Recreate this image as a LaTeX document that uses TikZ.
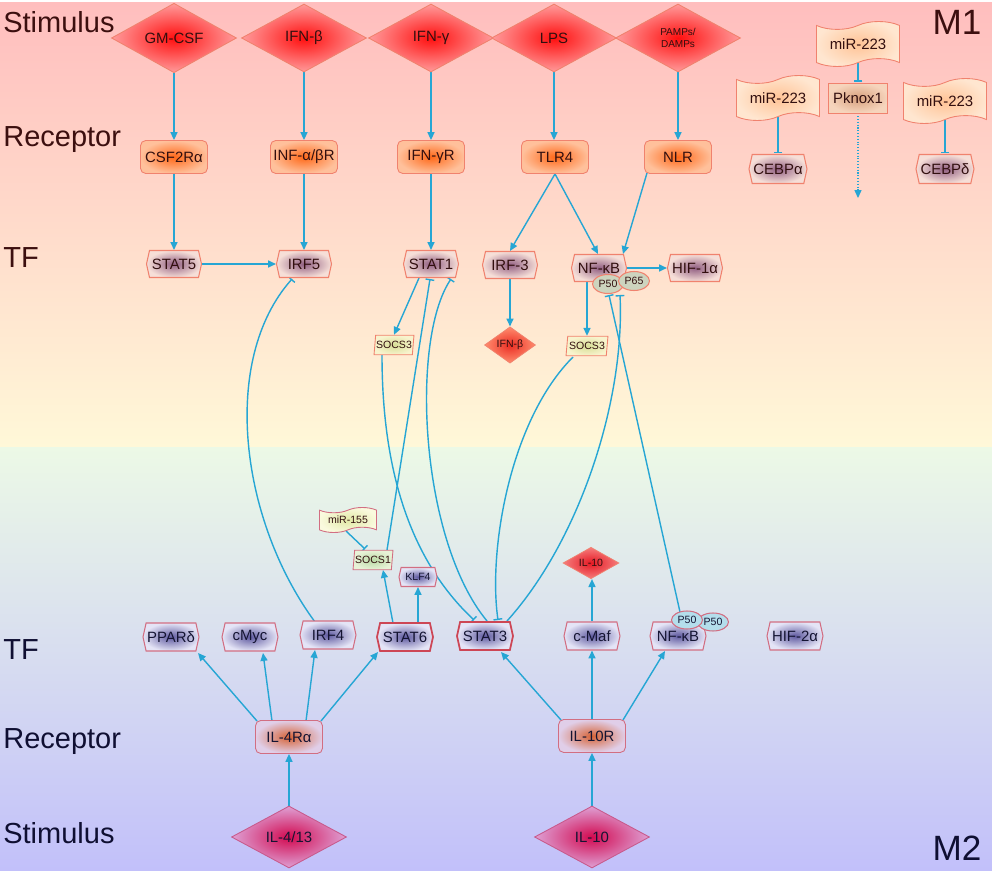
\documentclass[tikz,border=0pt]{standalone}
\usepackage{fontspec}
\setmainfont{Liberation Sans}
\usetikzlibrary{shapes.geometric,shapes.symbols,arrows.meta,calc}
\definecolor{conn}{RGB}{38,166,212}
\definecolor{brdA}{RGB}{240,130,110}
\definecolor{brdB}{RGB}{210,110,130}
\definecolor{brdS}{RGB}{205,70,85}
\definecolor{txtA}{RGB}{50,15,15}
\definecolor{txtB}{RGB}{20,20,50}
\definecolor{labA}{RGB}{60,15,15}
\definecolor{labB}{RGB}{15,15,50}
\definecolor{stimIn}{RGB}{255,15,15}
\definecolor{stimOut}{RGB}{255,155,155}
\definecolor{recIn}{RGB}{255,105,25}
\definecolor{recOut}{RGB}{255,192,155}
\definecolor{tfIn}{RGB}{145,95,130}
\definecolor{tfOut}{RGB}{246,222,215}
\definecolor{mirIn}{RGB}{255,195,150}
\definecolor{mirOut}{RGB}{255,230,208}
\definecolor{pkIn}{RGB}{215,160,125}
\definecolor{pkOut}{RGB}{246,212,188}
\definecolor{socsIn}{RGB}{215,222,150}
\definecolor{socsOut}{RGB}{248,243,205}
\definecolor{sdIn}{RGB}{235,45,35}
\definecolor{sdOut}{RGB}{255,140,110}
\definecolor{pfA}{RGB}{205,212,190}
\definecolor{mbIn}{RGB}{225,232,165}
\definecolor{mbOut}{RGB}{250,250,222}
\definecolor{soIn}{RGB}{185,218,165}
\definecolor{soOut}{RGB}{232,242,215}
\definecolor{tfbIn}{RGB}{95,90,160}
\definecolor{tfbOut}{RGB}{228,228,246}
\definecolor{isIn}{RGB}{230,25,35}
\definecolor{isOut}{RGB}{245,125,125}
\definecolor{pfB}{RGB}{180,222,236}
\definecolor{rbIn}{RGB}{215,100,55}
\definecolor{rbOut}{RGB}{224,206,232}
\definecolor{sbIn}{RGB}{210,10,80}
\definecolor{sbOut}{RGB}{222,160,212}
\definecolor{brdSB}{RGB}{200,90,140}
\definecolor{bgA}{RGB}{255,190,190}
\definecolor{bgB}{RGB}{255,222,205}
\definecolor{bgC}{RGB}{255,248,216}
\definecolor{bgD}{RGB}{236,249,230}
\definecolor{bgE}{RGB}{213,222,243}
\definecolor{bgF}{RGB}{194,192,250}
\pgfdeclarelayer{bg}
\pgfdeclarelayer{lines}
\pgfsetlayers{bg,lines,main}
\tikzset{
  fnt/.style={font=\fontsize{8.5}{10}\selectfont},
  sml/.style={font=\fontsize{6}{7}\selectfont},
  lab/.style={font=\fontsize{16.5}{18}\selectfont, anchor=west, inner sep=0},
  big/.style={font=\fontsize{20}{22}\selectfont, inner sep=0},
  stim/.style={diamond, draw=brdA, line width=0.5pt, inner sep=0, minimum width=2.5cm, minimum height=1.36cm, inner color=stimIn, outer color=stimOut, fnt, text=txtA},
  rec/.style={rectangle, rounded corners=3pt, draw=brdA, line width=0.5pt, inner sep=0, minimum width=1.34cm, minimum height=0.66cm, inner color=recIn, outer color=recOut, fnt, text=txtA},
  tf/.style={signal, signal to=west and east, signal pointer angle=155, draw=brdA, line width=0.6pt, inner sep=0, minimum width=1.1cm, minimum height=0.54cm, inner color=tfIn, outer color=tfOut, fnt, text=txtA},
  mir/.style={tape, tape bend top=in and out, tape bend bottom=in and out, tape bend height=4.5pt, draw=brdA, line width=0.5pt, inner sep=0, minimum width=1.66cm, minimum height=0.9cm, inner color=mirIn, outer color=mirOut, fnt, text=txtA},
  pkx/.style={rectangle, draw=brdA, line width=0.5pt, inner sep=0, minimum width=1.18cm, minimum height=0.6cm, inner color=pkIn, outer color=pkOut, fnt, text=txtA},
  socs/.style={trapezium, trapezium left angle=78, trapezium right angle=102, trapezium stretches=true, draw=brdA, line width=0.5pt, inner sep=0, minimum width=0.8cm, minimum height=0.39cm, inner color=socsIn, outer color=socsOut, sml, text=txtA},
  sdia/.style={diamond, draw=brdA, line width=0.4pt, inner sep=0, minimum width=1.02cm, minimum height=0.56cm, inner color=sdIn, outer color=sdOut, sml, text=txtA},
  pa/.style={ellipse, draw=brdA, line width=0.6pt, inner sep=0, minimum width=0.62cm, minimum height=0.38cm, fill=pfA, sml, text=txtA},
  tfb/.style={signal, signal to=west and east, signal pointer angle=155, draw=brdB, line width=0.6pt, inner sep=0, minimum width=1.12cm, minimum height=0.56cm, inner color=tfbIn, outer color=tfbOut, fnt, text=txtB},
  pb/.style={ellipse, draw=brdB, line width=0.6pt, inner sep=0, minimum width=0.62cm, minimum height=0.36cm, fill=pfB, sml, text=txtB},
  recb/.style={rectangle, rounded corners=3pt, draw=brdB, line width=0.5pt, inner sep=0, minimum width=1.34cm, minimum height=0.66cm, inner color=rbIn, outer color=rbOut, fnt, text=txtB},
  stimb/.style={diamond, draw=brdSB, line width=0.5pt, inner sep=0, minimum width=2.3cm, minimum height=1.24cm, inner color=sbIn, outer color=sbOut, fnt, text=txtB},
  ac/.style={draw=conn, line width=0.8pt, -{Triangle[length=4.5pt,width=4pt]}},
  ic/.style={draw=conn, line width=0.8pt, -{Bar[width=5pt]}},
}
\begin{document}
\begin{tikzpicture}[x=0.02cm,y=-0.02cm]
\useasboundingbox (0,0) rectangle (992,875);
\begin{pgfonlayer}{bg}
  \fill[white] (0,0) rectangle (992,875);
  \shade[top color=bgA, middle color=bgB, bottom color=bgC] (0,3) rectangle (992,447);
  \shade[top color=bgD, middle color=bgE, bottom color=bgF] (0,447) rectangle (992,870);
\end{pgfonlayer}

% side labels
\node[lab, text=labA] (l1) at (3,22) {Stimulus};
\node[lab, text=labA] (l2) at (3,140) {Receptor};
\node[lab, text=labA] (l3) at (3,258) {TF};
\node[lab, text=labB] (l4) at (3,650) {TF};
\node[lab, text=labB] (l5) at (3,742) {Receptor};
\node[lab, text=labB] (l6) at (3,833) {Stimulus};
\node[big, text=labA] (m1) at (957,22) {M1};
\node[big, text=labB] (m2) at (957,848) {M2};

% M1 stimuli
\node[stim] (gmcsf) at (174,38) {GM-CSF};
\node[stim] (ifnb) at (304,38) {IFN-β};
\node[stim] (ifng) at (431,38) {IFN-γ};
\node[stim] (lps) at (554,38) {LPS};
\node[stim, font=\fontsize{5.7}{6.8}\selectfont, align=center] (pamps) at (678,38) {PAMPs/\\DAMPs};
% M1 receptors
\node[rec] (csf) at (174,157) {CSF2Rα};
\node[rec] (infr) at (304,157) {INF-α/βR};
\node[rec] (ifngr) at (431,157) {IFN-γR};
\node[rec] (tlr4) at (555,157) {TLR4};
\node[rec] (nlr) at (678,157) {NLR};
% M1 TFs
\node[tf] (stat5) at (174,264) {STAT5};
\node[tf] (irf5) at (304,264) {IRF5};
\node[tf] (stat1) at (431,264) {STAT1};
\node[tf] (irf3) at (510,265) {IRF-3};
\node[tf] (nfkb) at (599,268) {NF-κB};
\node[tf] (hif1) at (695,268) {HIF-1α};
\node[pa] (p50a) at (608,284) {P50};
\node[pa] (p65) at (634,281) {P65};
% miR-223 block
\node[mir] (mira) at (778,98) {miR-223};
\node[mir] (mirb) at (858,44) {miR-223};
\node[mir] (mirc) at (945,101) {miR-223};
\node[pkx] (pknox) at (858,98) {Pknox1};
\node[tf, minimum width=1.16cm, minimum height=0.58cm] (cebpa) at (778,169) {CEBPα};
\node[tf, minimum width=1.16cm, minimum height=0.58cm] (cebpd) at (945,169) {CEBPδ};
\coordinate (pkend) at (858,198);
% middle
\node[socs] (socsl) at (394,345) {SOCS3};
\node[sdia] (ifnbs) at (510,345) {IFN-β};
\node[socs, minimum width=0.84cm] (socsr) at (587,346) {SOCS3};
\node[mir, minimum width=1.14cm, minimum height=0.5cm, tape bend height=3pt, inner color=mbIn, outer color=mbOut, draw=brdB, sml] (mir155) at (348,520) {miR-155};
\node[socs, inner color=soIn, outer color=soOut, draw=brdB] (socs1) at (373,560) {SOCS1};
\node[tfb, minimum width=0.76cm, minimum height=0.38cm, sml] (klf4) at (418,577) {KLF4};
\node[sdia, minimum width=1.12cm, minimum height=0.6cm, inner color=isIn, outer color=isOut] (il10s) at (591,563) {IL-10};
% M2 TFs
\node[tfb] (ppar) at (171,637) {PPARδ};
\node[tfb] (cmyc) at (250,637) {cMyc};
\node[tfb] (irf4) at (328,635) {IRF4};
\node[tfb, draw=brdS, line width=1pt] (stat6) at (405,637) {STAT6};
\node[tfb, draw=brdS, line width=1pt] (stat3) at (485,636) {STAT3};
\node[tfb] (cmaf) at (592,636) {c-Maf};
\node[tfb] (nfkbb) at (678,636) {NF-κB};
\node[tfb] (hif2) at (795,636) {HIF-2α};
\node[pb] (p50c) at (713,622) {P50};
\node[pb] (p50b) at (687,620) {P50};
% M2 receptors and stimuli
\node[recb] (il4r) at (289,737) {IL-4Rα};
\node[recb] (il10r) at (592,736) {IL-10R};
\node[stimb] (il413) at (289,837) {IL-4/13};
\node[stimb] (il10) at (592,837) {IL-10};

\begin{pgfonlayer}{lines}
% M1 straight arrows
\draw[ac] (gmcsf.south) -- (csf.north);
\draw[ac] (ifnb.south) -- (infr.north);
\draw[ac] (ifng.south) -- (ifngr.north);
\draw[ac] (lps.south) -- (tlr4.north -| lps.south);
\draw[ac] (pamps.south) -- (nlr.north);
\draw[ac] (csf.south) -- (stat5.north);
\draw[ac] (infr.south) -- (irf5.north);
\draw[ac] (ifngr.south) -- (stat1.north);
\draw[ac] (tlr4.south) -- (irf3.north);
\draw[ac] (tlr4.south) -- ($(nfkb)+(-1,-14)$);
\draw[ac] ($(nlr)+(-31,16)$) -- ($(nfkb)+(24,-14)$);
\draw[ac] (stat5.east) -- (irf5.west);
\draw[ac] (nfkb.east) -- (hif1.west);
\draw[ac] ($(stat1)+(-12,14)$) -- (socsl.north);
\draw[ac] (irf3.south) -- (ifnbs.north);
\draw[ac] (socsr.north |- nfkb.south) -- (socsr.north);
% miR-223
\draw[ic] (mira.south) -- ($(cebpa.north)+(0,-1)$);
\draw[ic] (mirb.south) -- ($(pknox.north)+(0,-1)$);
\draw[ic] (mirc.south) -- ($(cebpd.north)+(0,-1)$);
\draw[draw=conn, line width=0.6pt, densely dotted, -{Triangle[length=4.5pt,width=4pt]}] (pknox.south) -- (pkend);
% crossing curves
\draw[ic] ($(irf4)+(-13,-13)$) .. controls (240,520) and (220,360) .. ($(irf5)+(-12,15)$);
\draw[ic] ($(socsl)+(-12,10)$) .. controls (382,470) and (410,560) .. ($(stat3)+(-11,-16)$);
\draw[ic] ($(socs1)+(14,-10)$) -- ($(stat1)+(-1,15)$);
\draw[ic] ($(stat3)+(2,-15)$) .. controls (420,540) and (410,340) .. ($(stat1)+(20,15)$);
\draw[ic] ($(socsr)+(-14,11)$) .. controls (510,420) and (488,550) .. ($(stat3)+(13,-16)$);
\draw[ic] ($(stat3)+(22,-15)$) .. controls (580,540) and (625,400) .. ($(p50a)+(12,11)$);
\draw[ic] ($(p50b)+(-7,-8)$) -- ($(p50a)+(1,11)$);
% M2 lower part
\draw[ic] ($(mir155)+(-2,11)$) -- ($(socs1)+(-8,-11)$);
\draw[ac] ($(stat6)+(-12,-14)$) -- ($(socs1)+(10,10)$);
\draw[ac] (klf4.south |- stat6.north) -- (klf4.south);
\draw[ac] (cmaf.north) -- (il10s.south -| cmaf.north);
\draw[ac] ($(il4r)+(-32,-16)$) -- ($(ppar)+(27,16)$);
\draw[ac] ($(il4r)+(-17,-16)$) -- ($(cmyc)+(13,16)$);
\draw[ac] ($(il4r)+(17,-16)$) -- ($(irf4)+(-13,15)$);
\draw[ac] ($(il4r)+(32,-16)$) -- ($(stat6)+(-27,15)$);
\draw[ac] ($(il10r)+(-31,-16)$) -- ($(stat3)+(16,16)$);
\draw[ac] (il10r.north) -- (cmaf.south);
\draw[ac] ($(il10r)+(31,-16)$) -- ($(nfkbb)+(-13,15)$);
\draw[ac] (il413.north) -- (il4r.south);
\draw[ac] (il10.north) -- (il10r.south);
\end{pgfonlayer}
\end{tikzpicture}
\end{document}
